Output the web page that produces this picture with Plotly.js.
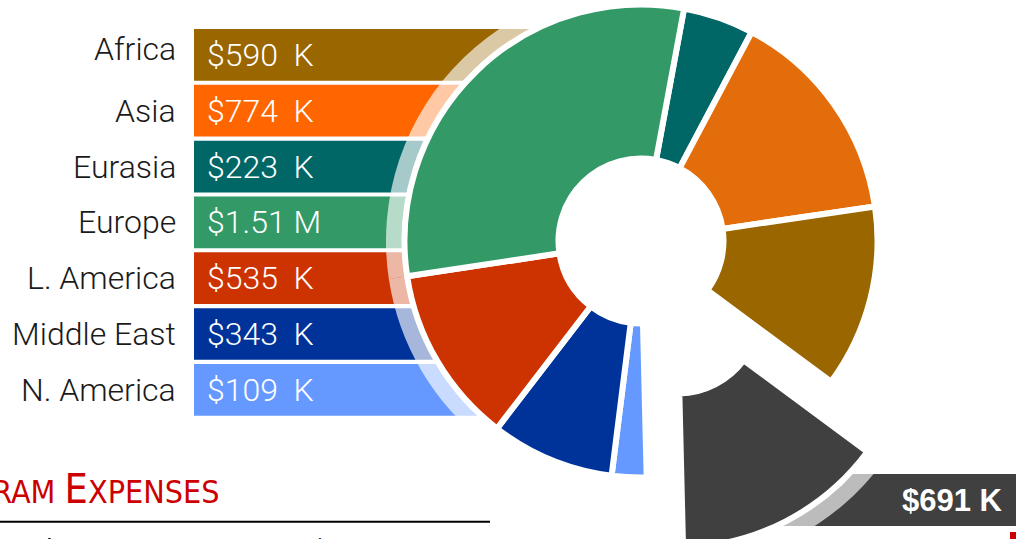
<!DOCTYPE html>
<html><head><meta charset="utf-8">
<script src="https://cdn.plot.ly/plotly-3.0.1.min.js"></script>
<style>
html,body{margin:0;padding:0;overflow:hidden;width:1016px;height:539px;background:#fff}
#chart{position:absolute;left:0;top:-100px;width:1016px;height:700px}
</style>
</head><body><div id="chart"></div>
<script>
// ---- data ----
const regions = ['Africa', 'Asia', 'Eurasia', 'Europe', 'L. America', 'Middle East', 'N. America'];
const expensesK = [590, 774, 223, 1510, 535, 343, 109];
const barColors = ['#996600', '#ff6600', '#006666', '#339966', '#cc3300', '#003399', '#6699ff'];

// donut slices (clockwise), sizes
const sliceLabels = ['Eurasia', 'Asia', 'Africa', 'Other', 'N. America', 'Middle East', 'L. America', 'Europe'];
const sliceValues = [231, 712, 596, 691, 113, 403, 582, 1447];
const sliceColors = ['#006666', '#e46d0b', '#996600', '#404040', '#6699ff', '#003399', '#cc3300', '#339966'];
const sliceExploded = [0, 0, 0, 1, 0, 0, 0, 0];

const otherLabel = 'Other';
const otherValueK = 691;
const totalRowLabel = 'Subgrants';
const totalRowValue = '3.48 M';

// ---- page geometry helpers ----
const W = 1016, H = 700, TOP = 100;
const px = x => x / W;
const py = y => 1 - (y + TOP) / H;
function fmt(v) {
  return v >= 1000 ? '$' + (v / 1000).toFixed(2) + ' M' : '$' + v + '\u00a0\u00a0K';
}
function pieDomain(cx, cy, r, pull) {
  const half = r * (1 + pull);
  return {x: [px(cx - half), px(cx + half)], y: [py(cy + half), py(cy - half)]};
}
const CX = 641, CY = 241, R = 236.5, RH = 255, HOLE_R = 82.5, PULL_PX = 79;

const bandLength = regions.map(() => 1);

const traces = [
  {
    type: 'bar', orientation: 'h', y: regions, x: bandLength, base: 0,
    marker: {color: barColors, line: {width: 0}},
    hoverinfo: 'skip', showlegend: false, xaxis: 'x', yaxis: 'y'
  },
  {
    type: 'bar', orientation: 'h', y: [otherLabel], x: [1], base: 0, width: 1,
    marker: {color: '#404040', line: {width: 0}},
    hoverinfo: 'skip', showlegend: false, xaxis: 'x2', yaxis: 'y2'
  },
  {
    type: 'pie', labels: sliceLabels, values: sliceValues, sort: false,
    direction: 'clockwise', rotation: 10.5, hole: 0.85,
    pull: sliceExploded.map(p => p * PULL_PX / RH),
    marker: {colors: sliceLabels.map(() => 'rgba(255,255,255,0.65)'), line: {width: 0}},
    textinfo: 'none', hoverinfo: 'skip', showlegend: false,
    domain: pieDomain(CX, CY, RH, PULL_PX / RH)
  },
  {
    type: 'pie', labels: sliceLabels, values: sliceValues, sort: false,
    direction: 'clockwise', rotation: 10.5, hole: HOLE_R / R,
    pull: sliceExploded.map(p => p * PULL_PX / R),
    marker: {colors: sliceColors, line: {color: '#ffffff', width: 6}},
    textinfo: 'none', hoverinfo: 'skip', showlegend: false,
    domain: pieDomain(CX, CY, R, PULL_PX / R)
  }
];

const annotations = [];
regions.forEach((r, i) => {
  annotations.push({
    xref: 'x', yref: 'y', x: 0, y: r, xanchor: 'right', yanchor: 'middle',
    xshift: -16, yshift: i === 0 ? 6 : 0,
    text: r, showarrow: false,
    font: {family: 'Roboto', size: 32, color: '#1a1a1a', weight: 300}
  });
  annotations.push({
    xref: 'x', yref: 'y', x: 0, y: r, xanchor: 'left', yanchor: 'middle', xshift: 11,
    text: fmt(expensesK[i]), showarrow: false,
    font: {family: 'Roboto', size: 32, color: '#ffffff', weight: 300}
  });
});
annotations.push({
  xref: 'paper', yref: 'paper', x: px(1005), y: py(500), xanchor: 'right', yanchor: 'middle',
  text: '$' + otherValueK + ' K', showarrow: false,
  font: {family: 'Liberation Sans', size: 31, color: '#ffffff', weight: 700}
});
annotations.push({
  xref: 'paper', yref: 'paper', x: px(221), y: py(515), xanchor: 'right', yanchor: 'bottom',
  text: 'P<span style="font-size:32px">ROGRAM </span>E<span style="font-size:32px">XPENSES</span>',
  showarrow: false,
  font: {family: 'DejaVu Sans Condensed, Roboto', size: 41, color: '#cc0000'}
});
annotations.push({
  xref: 'paper', yref: 'paper', x: px(10), y: py(531), xanchor: 'left', yanchor: 'top',
  text: totalRowLabel, showarrow: false,
  font: {family: 'Liberation Sans', size: 28, color: '#111111'}
});
annotations.push({
  xref: 'paper', yref: 'paper', x: px(310), y: py(531), xanchor: 'left', yanchor: 'top',
  text: '$', showarrow: false,
  font: {family: 'Liberation Sans', size: 28, color: '#111111'}
});
annotations.push({
  xref: 'paper', yref: 'paper', x: px(352), y: py(531), xanchor: 'left', yanchor: 'top',
  text: totalRowValue, showarrow: false,
  font: {family: 'Liberation Sans', size: 28, color: '#111111'}
});

const layout = {
  width: W, height: H,
  margin: {l: 0, r: 0, t: 0, b: 0, pad: 0},
  paper_bgcolor: '#ffffff', plot_bgcolor: 'rgba(0,0,0,0)',
  showlegend: false, bargap: 0.0735,
  font: {family: 'Roboto', color: '#1a1a1a'},
  xaxis: {domain: [px(194), px(550)], range: [0, 1], visible: false, fixedrange: true},
  yaxis: {
    domain: [py(417.75), py(26.95)], type: 'category', categoryorder: 'array',
    categoryarray: regions, autorange: 'reversed',
    showgrid: false, zeroline: false, showline: false, ticks: '', showticklabels: false
  },
  xaxis2: {domain: [px(760), 1], range: [0, 1], visible: false, anchor: 'y2', fixedrange: true},
  yaxis2: {domain: [py(526), py(474)], range: [-0.5, 0.5], visible: false, anchor: 'x2', type: 'category'},
  shapes: [
    {type: 'line', xref: 'paper', yref: 'paper', x0: 0, x1: px(490), y0: py(521.7), y1: py(521.7),
     line: {color: '#000000', width: 2}},
    {type: 'rect', xref: 'paper', yref: 'paper', x0: px(1010), x1: 1, y0: 0, y1: py(532),
     fillcolor: '#cc0000', line: {width: 0}}
  ],
  annotations: annotations
};

Plotly.newPlot('chart', traces, layout, {staticPlot: true, displayModeBar: false});
</script>
</body></html>
